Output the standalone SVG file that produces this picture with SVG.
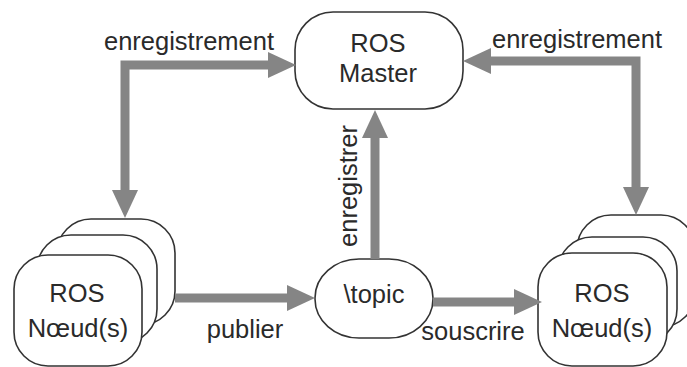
<svg xmlns="http://www.w3.org/2000/svg" width="687" height="367" viewBox="0 0 687 367">
<style>
text{font-family:"Liberation Sans",Arial,sans-serif;font-size:25.5px;fill:#2a2a2a;}
.lbl{text-anchor:middle;}
.node{fill:#fff;stroke:#333;stroke-width:1.6;}
.edge{fill:none;stroke:#858585;stroke-width:9;stroke-linejoin:miter;}
</style>
<defs>
<marker id="ah" markerUnits="userSpaceOnUse" markerWidth="28" markerHeight="26" refX="0" refY="13" orient="auto-start-reverse" viewBox="0 0 28 26">
<path d="M0,0 L28,13 L0,26 z" fill="#858585"/>
</marker>
</defs>
<rect width="687" height="367" fill="#fff"/>
<g id="master">
<rect class="node" x="295" y="12" width="168" height="97" rx="38" ry="38"/>
<text class="lbl" x="378" y="52">ROS</text>
<text class="lbl" x="378" y="82">Master</text>
</g>
<g id="topic">
<rect class="node" x="315" y="259" width="118" height="79" rx="44" ry="39"/>
<text class="lbl" x="374" y="303">\topic</text>
</g>
<g id="nodes-left">
<rect class="node" x="57" y="219" width="118" height="106" rx="34" ry="34"/>
<rect class="node" x="37" y="235" width="120" height="108" rx="34" ry="34"/>
<rect class="node" x="14" y="255" width="128" height="111" rx="34" ry="34"/>
<text class="lbl" x="77" y="302">ROS</text>
<text class="lbl" x="78" y="337">Nœud(s)</text>
</g>
<g id="nodes-right">
<rect class="node" x="577" y="215" width="118" height="112" rx="34" ry="34"/>
<rect class="node" x="558" y="237" width="119" height="106" rx="34" ry="34"/>
<rect class="node" x="538" y="253" width="129" height="113" rx="34" ry="34"/>
<text class="lbl" x="602" y="302">ROS</text>
<text class="lbl" x="602" y="337">Nœud(s)</text>
</g>
<g id="connectors">
<path class="edge" d="M125,190 L125,65 L268,65" marker-start="url(#ah)" marker-end="url(#ah)"/>
<path class="edge" d="M491,61 L636,61 L636,187" marker-start="url(#ah)" marker-end="url(#ah)"/>
<path class="edge" d="M375,259 L375,138" marker-end="url(#ah)"/>
<path class="edge" d="M175,298 L287,298" marker-end="url(#ah)"/>
<path class="edge" d="M433,302 L514,302" marker-end="url(#ah)"/>
<text class="lbl" x="189" y="50">enregistrement</text>
<text class="lbl" x="577" y="48">enregistrement</text>
<text class="lbl" x="245" y="338">publier</text>
<text class="lbl" x="473" y="340">souscrire</text>
<text class="lbl" transform="translate(357,186) rotate(-90)">enregistrer</text>
</g>
</svg>
